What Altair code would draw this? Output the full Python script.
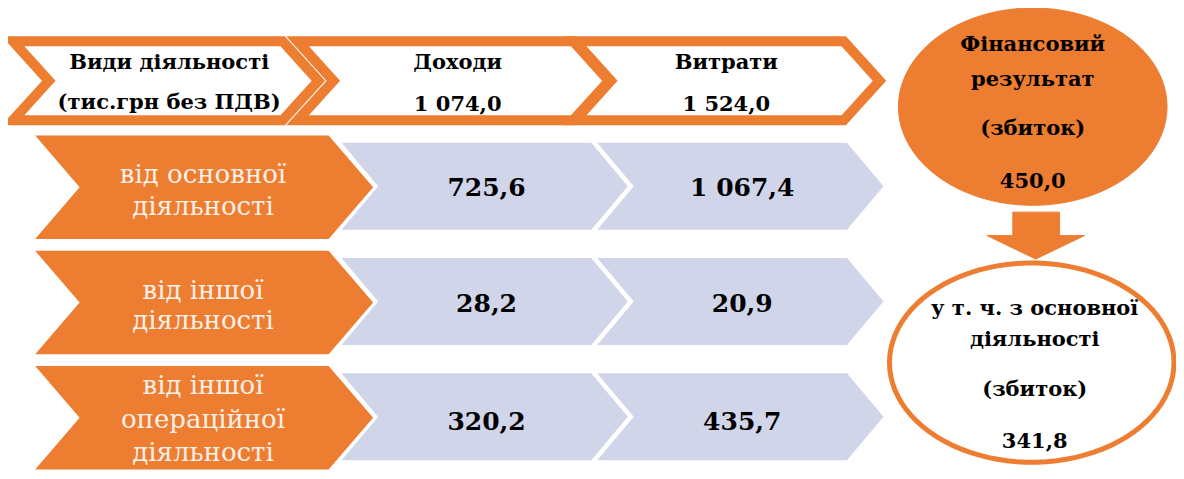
import math
import altair as alt
import pandas as pd

# ---------------- data ----------------
header_titles = ["Види діяльності", "Доходи", "Витрати"]
header_note = "(тис.грн  без ПДВ)"
total_income = 1074.0
total_expenses = 1524.0
activities = [
    ["від основної", "діяльності"],
    ["від іншої", "діяльності"],
    ["від іншої", "операційної", "діяльності"],
]
income = [725.6, 28.2, 320.2]
expenses = [1067.4, 20.9, 435.7]
result_lines = ["Фінансовий", "результат", "(збиток)"]
result_value = 450.0
core_lines = ["у т. ч. з основної", "діяльності", "(збиток)"]
core_value = 341.8


def fmt(v):
    return f"{v:,.1f}".replace(",", " ").replace(".", ",")


# ---------------- layout (reference pixel space -> chart space) ----------------
W, H = 1168, 463
KX = W / 1174.0
KY = H / 474.0


def P(x, y):
    return [round((x - 8) * KX, 2), round((y - 3) * KY, 2)]


ORANGE = "#ED7D31"
LAV = "#D0D5EA"
WHITE = "#FFFFFF"
CREAM = "#FCF1E9"


def feat(points, fill, stroke, sw):
    ring = [P(*p) for p in points] + [P(*points[0])]
    return {
        "type": "Feature",
        "properties": {"fill": fill, "stroke": stroke, "sw": sw},
        "geometry": {"type": "Polygon", "coordinates": [ring]},
    }


def chevron(xl, xr, top, bottom, d):
    mid = (top + bottom) / 2.0
    return [(xl, top), (xr, top), (xr + d, mid), (xr, bottom), (xl, bottom), (xl + d, mid)]


def ellipse(cx, cy, rx, ry, n=90):
    return [(cx + rx * math.cos(2 * math.pi * i / n), cy + ry * math.sin(2 * math.pi * i / n)) for i in range(n)]


features = []
# header chevrons (outlined)
HT, HB, HD = 37, 118, 36
features.append(feat(chevron(13, 284, HT, HB, HD), WHITE, ORANGE, 10))
features.append(feat(chevron(299, 576, HT, HB, HD), WHITE, ORANGE, 10))
features.append(feat(chevron(578, 848, HT, HB, HD), WHITE, ORANGE, 10))

# rows
row_tops = [132, 250, 368]
ROW_H = 109
for top in row_tops:
    mid = top + ROW_H / 2.0
    lt, lb = mid - 1 - 46, mid - 1 + 46
    features.append(feat(chevron(597, 852, lt, lb, 38), LAV, WHITE, 3))
    features.append(feat(chevron(340, 595, lt, lb, 38), LAV, WHITE, 3))
    features.append(feat(chevron(32, 331, top, top + ROW_H, 46), ORANGE, WHITE, 3))

# result ellipse, arrow, core-activity ellipse
features.append(feat(ellipse(1038, 104, 135, 101), ORANGE, ORANGE, 1))
features.append(feat([(1018, 212), (1065, 212), (1065, 236), (1090, 236), (1041, 260),
                      (992, 236), (1018, 236)], ORANGE, ORANGE, 1))
features.append(feat(ellipse(1037, 366, 143, 102), WHITE, ORANGE, 5))

proj = dict(type="identity", scale=1, translate=[0, 0])

shapes = alt.Chart(alt.Data(values=features)).mark_geoshape().encode(
    fill=alt.Fill("properties.fill:N", scale=None),
    stroke=alt.Stroke("properties.stroke:N", scale=None),
    strokeWidth=alt.StrokeWidth("properties.sw:Q", scale=None),
)

# ---------------- text tables ----------------
def rows_to_df(items):
    recs = []
    for x, y, t in items:
        cx, cy = P(x, y)
        recs.append({"lon": cx, "lat": cy, "t": t})
    return pd.DataFrame(recs)


hx = [170, 460, 730]
header_items = [(hx[i], 65, header_titles[i]) for i in range(3)]
header_items += [(hx[0], 106, header_note), (hx[1], 108, fmt(total_income)), (hx[2], 108, fmt(total_expenses))]

label_baselines = [[182, 215], [301, 332], [398, 433, 467]]
label_items = []
for lines, bls in zip(activities, label_baselines):
    for line, b in zip(lines, bls):
        label_items.append((204, b, line))

value_baselines = [195, 314, 435]
value_items = []
for i in range(3):
    value_items.append((489, value_baselines[i], fmt(income[i])))
    value_items.append((746, value_baselines[i], fmt(expenses[i])))

ell_items = []
for line, b in zip(result_lines + [fmt(result_value)], [47, 83, 133, 187]):
    ell_items.append((1038, b, line))
for line, b in zip(core_lines + [fmt(core_value)], [317, 349, 400, 453]):
    ell_items.append((1040, b, line))

FONT = "DejaVu Serif"


def text_layer(items, size, weight, color):
    return alt.Chart(rows_to_df(items)).mark_text(
        font=FONT, fontSize=size, fontWeight=weight, color=color,
        align="center", baseline="alphabetic",
    ).encode(longitude="lon:Q", latitude="lat:Q", text="t:N")


chart = alt.layer(
    shapes,
    text_layer(header_items, 21, "bold", "#000000"),
    text_layer(label_items, 26, "normal", CREAM),
    text_layer(value_items, 25, "bold", "#000000"),
    text_layer(ell_items, 21, "bold", "#000000"),
).project(**proj).properties(
    width=W, height=H, padding=0,
    autosize=alt.AutoSizeParams(type="none"),
).configure_view(stroke=None)

chart.save("out.html", embed_options={"renderer": "svg", "actions": False})
